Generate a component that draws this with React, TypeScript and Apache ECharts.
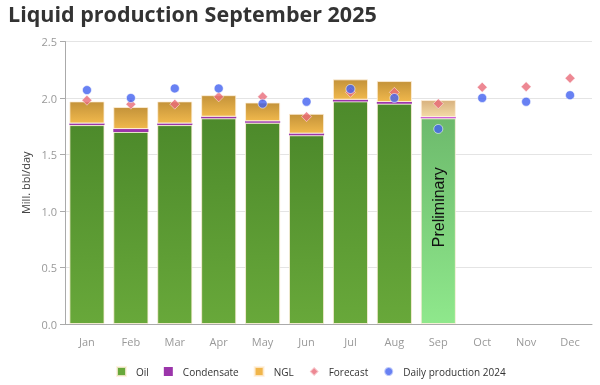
import React, { useEffect, useRef } from "react";
import * as echarts from "echarts";

const categories = ["Jan", "Feb", "Mar", "Apr", "May", "Jun", "Jul", "Aug", "Sep", "Oct", "Nov", "Dec"];
const oil = [1.76, 1.70, 1.76, 1.82, 1.78, 1.67, 1.97, 1.95, 1.82, null, null, null];
const condensate = [0.015, 0.025, 0.015, 0.015, 0.015, 0.015, 0.015, 0.015, 0.012, null, null, null];
const ngl = [0.195, 0.195, 0.195, 0.19, 0.165, 0.175, 0.18, 0.185, 0.15, null, null, null];
const forecast = [1.98, 1.945, 1.945, 2.01, 2.01, 1.835, 2.05, 2.05, 1.95, 2.095, 2.10, 2.175];
const daily2024 = [2.07, 2.0, 2.085, 2.085, 1.95, 1.967, 2.08, 2.0, 1.726, 2.0, 1.967, 2.025];
const yTicks = [0, 0.5, 1.0, 1.5, 2.0, 2.5];
const preliminaryIndex = 8;

const FONT = "'Open Sans', sans-serif";

const grad = (top: string, bottom: string) =>
  new echarts.graphic.LinearGradient(0, 0, 0, 1, [
    { offset: 0, color: top },
    { offset: 1, color: bottom },
  ]);

export default function App() {
  const ref = useRef<HTMLDivElement>(null);
  useEffect(() => {
    if (!ref.current) return;
    const chart = echarts.init(ref.current, undefined, { renderer: "svg" });
    const oilGrad = grad("#4d8a2b", "#68a83a");
    const oilPrelimGrad = grad("#6dba6c", "#8fe88c");
    const nglGrad = grad("#c4933a", "#f0b84c");
    const nglPrelimGrad = grad("#d8b27e", "#f3d9a6");
    const barBorder = { borderColor: "rgba(255,240,220,0.8)", borderWidth: 1 };

    chart.setOption({
      animation: false,
      textStyle: { fontFamily: FONT },
      title: {
        text: "Liquid production September 2025",
        left: 3,
        top: -3,
        textStyle: { fontSize: 21.5, fontWeight: "bold", color: "#333", fontFamily: FONT },
      },
      legend: {
        top: 361,
        left: 111,
        itemWidth: 9,
        itemHeight: 9,
        itemGap: 15,
        textStyle: { fontSize: 10, color: "#333", fontFamily: FONT, padding: [0, 0, 0, 5] },
        data: [
          { name: "Oil", icon: "rect", itemStyle: { color: "#68a83a" } },
          { name: "Condensate", icon: "rect", itemStyle: { color: "#9b35aa" } },
          { name: "NGL", icon: "rect", itemStyle: { color: "#f0b54a" } },
          { name: "Forecast", icon: "diamond", itemStyle: { color: "#e86a78" } },
          { name: "Daily production 2024", icon: "circle", itemStyle: { color: "#4262f0" } },
        ],
      },
      grid: { left: 65, right: 8, top: 41.5, bottom: 61 },
      xAxis: {
        type: "category",
        data: categories,
        axisLine: { lineStyle: { color: "#aaa" } },
        axisTick: { length: 10, lineStyle: { color: "#aaa" } },
        axisLabel: { color: "#999", fontSize: 11, margin: 12, fontFamily: FONT },
      },
      yAxis: {
        type: "value",
        min: yTicks[0],
        max: yTicks[yTicks.length - 1],
        interval: 0.5,
        name: "Mill. bbl/day",
        nameLocation: "middle",
        nameRotate: 90,
        nameGap: 33,
        nameTextStyle: { fontSize: 11, color: "#444", fontFamily: FONT },
        axisLine: { show: true, lineStyle: { color: "#aaa" } },
        axisTick: { show: true, length: 5, lineStyle: { color: "#aaa" } },
        axisLabel: {
          color: "#999",
          fontSize: 11,
          fontFamily: FONT,
          formatter: (v: number) => v.toFixed(1),
        },
        splitLine: { lineStyle: { color: "#e4e4e4" } },
      },
      series: [
        {
          name: "Oil",
          type: "bar",
          stack: "total",
          barCategoryGap: "20%",
          data: oil.map((v, i) =>
            i === preliminaryIndex
              ? {
                  value: v,
                  itemStyle: { color: oilPrelimGrad },
                  label: {
                    show: true,
                    formatter: "Preliminary",
                    position: "inside",
                    rotate: 90,
                    offset: [14, 0],
                    color: "#111",
                    fontSize: 16,
                    fontFamily: "'Liberation Sans', Arial, sans-serif",
                  },
                }
              : v
          ),
          itemStyle: { color: oilGrad, ...barBorder },
        },
        {
          name: "Condensate",
          type: "bar",
          stack: "total",
          data: condensate.map((v, i) =>
            i === preliminaryIndex ? { value: v, itemStyle: { color: "#d060d8" } } : v
          ),
          itemStyle: { color: "#9b35aa" },
        },
        {
          name: "NGL",
          type: "bar",
          stack: "total",
          data: ngl.map((v, i) =>
            i === preliminaryIndex ? { value: v, itemStyle: { color: nglPrelimGrad } } : v
          ),
          itemStyle: { color: nglGrad, ...barBorder },
        },
        {
          name: "Forecast",
          type: "scatter",
          symbol: "diamond",
          symbolSize: 10,
          data: forecast,
          itemStyle: { color: "#e86a78", borderColor: "rgba(255,255,255,0.6)", borderWidth: 1 },
          z: 5,
        },
        {
          name: "Daily production 2024",
          type: "scatter",
          symbol: "circle",
          symbolSize: 9,
          data: daily2024,
          itemStyle: { color: "#4262f0", borderColor: "rgba(255,255,255,0.7)", borderWidth: 1 },
          z: 6,
        },
      ],
    });
    return () => chart.dispose();
  }, []);
  return <div ref={ref} style={{ position: "fixed", left: 0, top: 0, width: 600, height: 385 }} />;
}
